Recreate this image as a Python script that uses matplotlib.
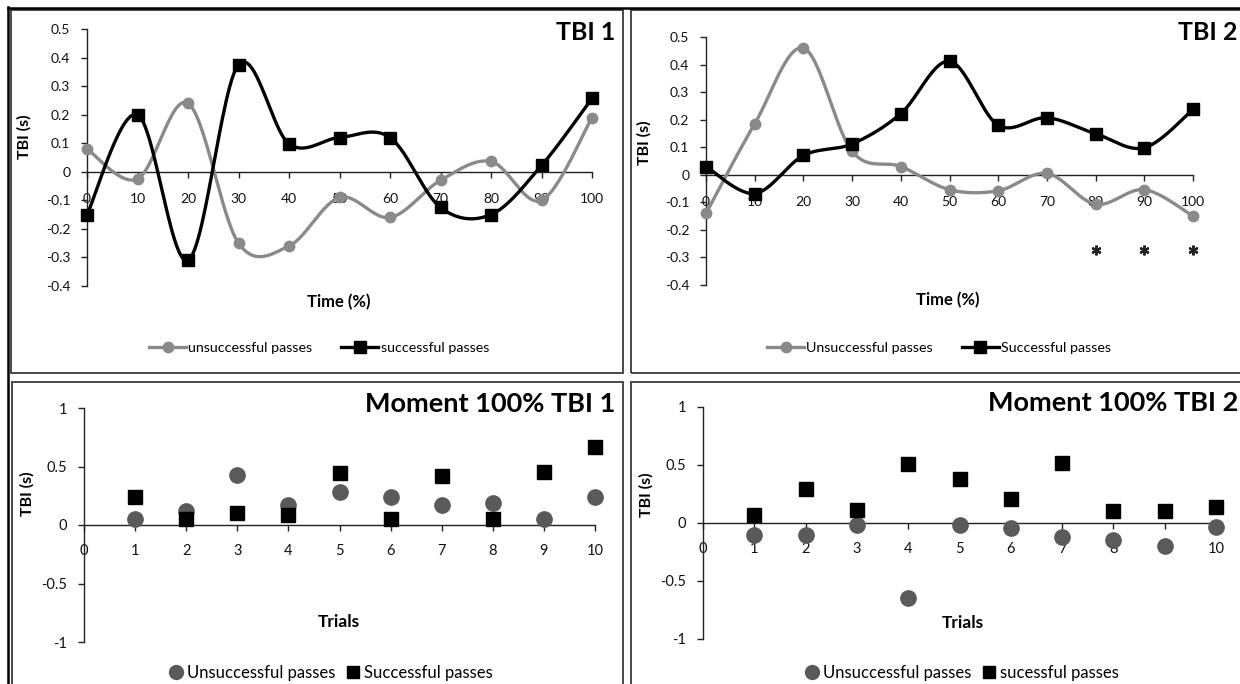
import numpy as np
import matplotlib
matplotlib.use("Agg")
import matplotlib.pyplot as plt
from matplotlib.lines import Line2D
from matplotlib.patches import Rectangle

plt.rcParams['font.family'] = ['Lato', 'DejaVu Sans']

# ---------------- data ----------------
time_pct = [0, 10, 20, 30, 40, 50, 60, 70, 80, 90, 100]

tbi1_unsuccessful = [0.08, -0.025, 0.24, -0.25, -0.26, -0.09, -0.16, -0.03, 0.036, -0.10, 0.19]
tbi1_successful = [-0.15, 0.20, -0.31, 0.375, 0.098, 0.12, 0.12, -0.125, -0.15, 0.022, 0.257]

tbi2_unsuccessful = [-0.14, 0.185, 0.46, 0.085, 0.03, -0.054, -0.058, 0.005, -0.107, -0.054, -0.15]
tbi2_successful = [0.03, -0.068, 0.07, 0.112, 0.222, 0.412, 0.18, 0.207, 0.149, 0.098, 0.237]
tbi2_sig_times = [80, 90, 100]
tbi2_sig_level = [-0.272, -0.272, -0.272]

trials = [1, 2, 3, 4, 5, 6, 7, 8, 9, 10]
m1_unsuccessful = [0.05, 0.12, 0.43, 0.17, 0.28, 0.24, 0.17, 0.19, 0.05, 0.24]
m1_successful = [0.24, 0.055, 0.10, 0.083, 0.445, 0.055, 0.42, 0.055, 0.45, 0.67]
m2_unsuccessful = [-0.10, -0.10, -0.017, -0.65, -0.014, -0.046, -0.12, -0.15, -0.20, -0.037]
m2_successful = [0.07, 0.29, 0.11, 0.51, 0.38, 0.21, 0.52, 0.10, 0.106, 0.135]

top_yticks = [-0.4, -0.3, -0.2, -0.1, 0, 0.1, 0.2, 0.3, 0.4, 0.5]
bottom_yticks = [-1, -0.5, 0, 0.5, 1]
bottom_xticks = [0, 1, 2, 3, 4, 5, 6, 7, 8, 9, 10]

W, H = 1240, 684
fig = plt.figure(figsize=(W / 100, H / 100), dpi=100)

GRAY = '#8a8a8a'
DARKGRAY = '#5a5a5a'
AXC = '#222222'


def px_axes(x0, x1, ytop, ybot):
    return fig.add_axes([x0 / W, (H - ybot) / H, (x1 - x0) / W, (ybot - ytop) / H])


def smooth(x, y, n=30):
    x = np.asarray(x, float)
    y = np.asarray(y, float)
    P = np.column_stack([x, y])
    Pe = np.vstack([P[0], P, P[-1]])
    out = []
    t = np.linspace(0, 1, n)[:, None]
    for i in range(len(P) - 1):
        p0, p1, p2, p3 = Pe[i], Pe[i + 1], Pe[i + 2], Pe[i + 3]
        c1 = p1 + (p2 - p0) / 6.0
        c2 = p2 - (p3 - p1) / 6.0
        seg = ((1 - t) ** 3) * p1 + 3 * ((1 - t) ** 2) * t * c1 + 3 * (1 - t) * t ** 2 * c2 + t ** 3 * p2
        out.append(seg if i == 0 else seg[1:])
    out = np.vstack(out)
    return out[:, 0], out[:, 1]


def fmt(v):
    if abs(v) < 1e-9:
        return '0'
    s = ('%.1f' % v)
    if s.endswith('.0'):
        s = s[:-2]
    return s


def style_axes(ax, xlim, ylim, xticks, yticks, lsize, xpad):
    ax.set_xlim(*xlim)
    ax.set_ylim(*ylim)
    for s in ['top', 'right']:
        ax.spines[s].set_visible(False)
    ax.spines['bottom'].set_position(('data', 0))
    ax.spines['bottom'].set_color(AXC)
    ax.spines['left'].set_color(AXC)
    ax.spines['bottom'].set_linewidth(1.0)
    ax.spines['left'].set_linewidth(1.0)
    ax.set_xticks(xticks)
    ax.set_xticklabels([str(v) for v in xticks])
    ax.set_yticks(yticks)
    ax.set_yticklabels([fmt(v) for v in yticks])
    ax.tick_params(axis='x', direction='out', length=4, width=1, color=AXC, pad=xpad,
                   labelsize=lsize, labelcolor='#111111')
    ax.tick_params(axis='y', direction='out', length=4, width=1, color=AXC, pad=8,
                   labelsize=lsize, labelcolor='#111111')
    ax.patch.set_visible(False)


# -------- frames --------
def frame(x0, y0, x1, y1):
    r = Rectangle((x0 / W, 1 - y1 / H), (x1 - x0) / W, (y1 - y0) / H, transform=fig.transFigure,
                  fill=False, edgecolor='#3a3a3a', linewidth=1.3, zorder=0)
    fig.add_artist(r)

frame(11, 10, 623, 373)
frame(631, 10, 1250, 373)
frame(12, 382, 623, 700)
frame(631, 382, 1250, 700)
fig.add_artist(Line2D([8 / W, 8 / W], [0, 1 - 7 / H], transform=fig.transFigure, color='black', lw=1.8))
fig.add_artist(Line2D([8 / W, 1], [1 - 8 / H, 1 - 8 / H], transform=fig.transFigure, color='black', lw=1.8))

# -------- top-left: TBI 1 --------
ax1 = px_axes(87, 592, 29, 286)
style_axes(ax1, (0, 100), (-0.4, 0.5), time_pct, top_yticks, 10, 11)
sx, sy = smooth(time_pct, tbi1_unsuccessful)
ax1.plot(sx, sy, color=GRAY, lw=2.4, clip_on=False, zorder=3)
ax1.plot(time_pct, tbi1_unsuccessful, 'o', color=GRAY, ms=7.5, clip_on=False, zorder=4)
sx, sy = smooth(time_pct, tbi1_successful)
ax1.plot(sx, sy, color='black', lw=2.4, clip_on=False, zorder=5)
ax1.plot(time_pct, tbi1_successful, 's', color='black', ms=8.5, clip_on=False, zorder=6)

# -------- top-right: TBI 2 --------
ax2 = px_axes(706, 1193, 37, 285)
style_axes(ax2, (0, 100), (-0.4, 0.5), time_pct, top_yticks, 10, 11)
sx, sy = smooth(time_pct, tbi2_unsuccessful)
ax2.plot(sx, sy, color=GRAY, lw=2.4, clip_on=False, zorder=3)
ax2.plot(time_pct, tbi2_unsuccessful, 'o', color=GRAY, ms=7.5, clip_on=False, zorder=4)
sx, sy = smooth(time_pct, tbi2_successful)
ax2.plot(sx, sy, color='black', lw=2.4, clip_on=False, zorder=5)
ax2.plot(time_pct, tbi2_successful, 's', color='black', ms=8.5, clip_on=False, zorder=6)
ax2.plot(tbi2_sig_times, tbi2_sig_level, linestyle='none', marker=(6, 2, 0), ms=7,
         mew=1.6, color='#222222', clip_on=False)

# -------- bottom-left --------
ax3 = px_axes(84, 595, 408, 642)
style_axes(ax3, (0, 10), (-1, 1), bottom_xticks, bottom_yticks, 10.5, 10)
ax3.plot(trials, m1_unsuccessful, 'o', color=DARKGRAY, ms=11, clip_on=False, zorder=3)
ax3.plot(trials, m1_successful, 's', color='black', ms=9.5, clip_on=False, zorder=4)

# -------- bottom-right --------
ax4 = px_axes(703, 1216, 407, 639)
style_axes(ax4, (0, 10), (-1, 1), bottom_xticks, bottom_yticks, 10.5, 10)
ax4.plot(trials, m2_unsuccessful, 'o', color=DARKGRAY, ms=11, clip_on=False, zorder=3)
ax4.plot(trials, m2_successful, 's', color='black', ms=9.5, clip_on=False, zorder=4)

# -------- texts --------
def ftext(x, y, s, **kw):
    fig.text(x / W, 1 - y / H, s, **kw)

ftext(615, 33, 'TBI 1', ha='right', va='center', fontsize=18, fontweight='bold')
ftext(1178, 33, 'TBI 2', ha='left', va='center', fontsize=18, fontweight='bold')
ftext(615, 404, 'Moment 100% TBI 1', ha='right', va='center', fontsize=19.5, fontweight='bold')
ftext(988, 403, 'Moment 100% TBI 2', ha='left', va='center', fontsize=19.5, fontweight='bold')

for (x, y) in [(24, 137), (644, 143), (27, 494), (646, 495)]:
    ftext(x, y, 'TBI (s)', ha='center', va='center', rotation=90, fontsize=11.5, fontweight='bold')
ftext(339, 302, 'Time (%)', ha='center', va='center', fontsize=12, fontweight='bold')
ftext(948, 300, 'Time (%)', ha='center', va='center', fontsize=12, fontweight='bold')
ftext(339, 622, 'Trials', ha='center', va='center', fontsize=12.5, fontweight='bold')
ftext(963, 623, 'Trials', ha='center', va='center', fontsize=12.5, fontweight='bold')

# -------- legends --------
def line_handles(labels):
    h1 = Line2D([], [], color=GRAY, lw=2.4, marker='o', ms=7.5)
    h2 = Line2D([], [], color='black', lw=2.4, marker='s', ms=8.5)
    return [h1, h2], labels


def marker_handles(labels):
    h1 = Line2D([], [], color=DARKGRAY, lw=0, marker='o', ms=10)
    h2 = Line2D([], [], color='black', lw=0, marker='s', ms=9)
    return [h1, h2], labels


h, l = line_handles(['unsuccessful passes', 'successful passes'])
fig.legend(h, l, loc='center', bbox_to_anchor=(319 / W, 1 - 348 / H), ncol=2, frameon=False,
           fontsize=10.3, handlelength=2.6, handletextpad=0.15, columnspacing=2.0)
h, l = line_handles(['Unsuccessful passes', 'Successful passes'])
fig.legend(h, l, loc='center', bbox_to_anchor=(939 / W, 1 - 348 / H), ncol=2, frameon=False,
           fontsize=10.3, handlelength=2.6, handletextpad=0.15, columnspacing=2.0)
h, l = marker_handles(['Unsuccessful passes', 'Successful passes'])
fig.legend(h, l, loc='center', bbox_to_anchor=(331 / W, 1 - 673 / H), ncol=2, frameon=False,
           fontsize=12, handlelength=0.8, handletextpad=0.25, columnspacing=0.7)
h, l = marker_handles(['Unsuccessful passes', 'sucessful passes'])
fig.legend(h, l, loc='center', bbox_to_anchor=(962 / W, 1 - 673 / H), ncol=2, frameon=False,
           fontsize=12, handlelength=0.8, handletextpad=0.25, columnspacing=0.7)

fig.savefig('out.png', dpi=100)
